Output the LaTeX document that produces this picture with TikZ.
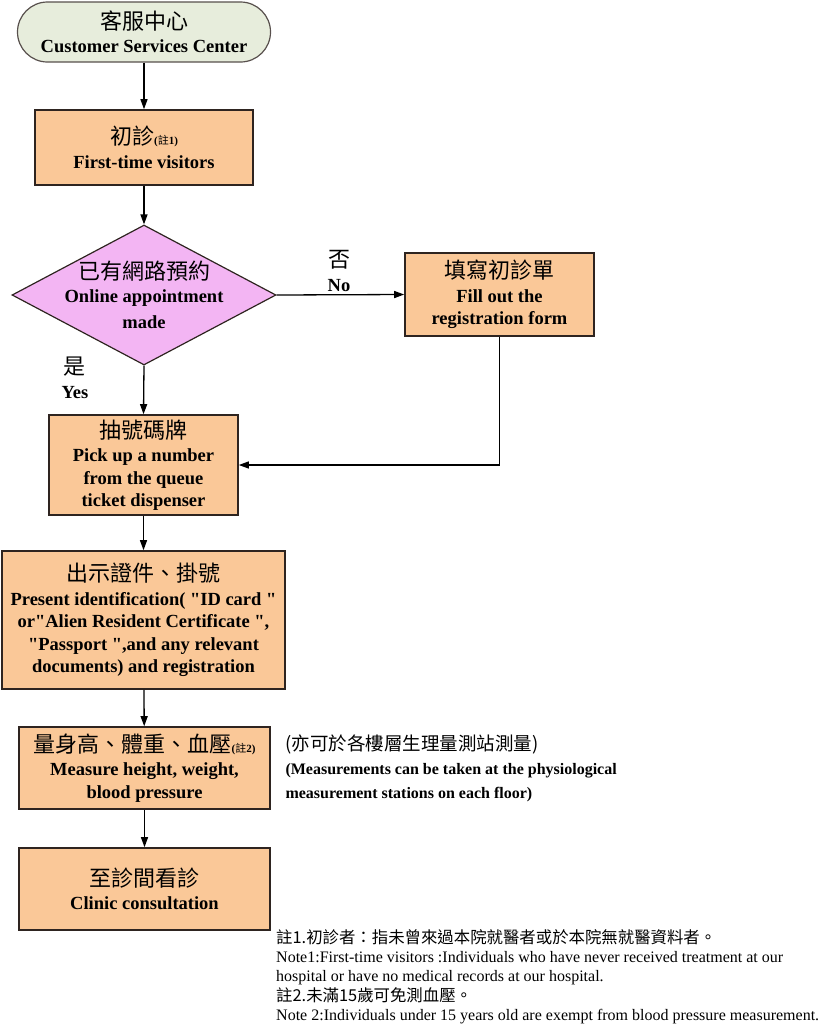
\documentclass[tikz,border=0pt]{standalone}
\usepackage{fontspec}
\setmainfont{Liberation Serif}[Ligatures=TeXOff]
\newfontfamily\cjk{Noto Sans CJK TC}
\usetikzlibrary{shapes.geometric,arrows.meta}
\definecolor{boxfill}{HTML}{FAC898}
\definecolor{termfill}{HTML}{E7EDDC}
\definecolor{decfill}{HTML}{F3B5F3}
\definecolor{boxline}{HTML}{2E2420}
% chinese line and small note mark
\newcommand{\zh}[1]{{\cjk\mdseries\fontsize{22}{22}\selectfont #1}}
\newcommand{\zhmark}[1]{{\fontsize{11}{11}\selectfont(\cjk\mdseries 註\rmfamily\bfseries #1)}}

\begin{document}
\begin{tikzpicture}[x=1pt,y=-1pt,>={Triangle[length=10pt,width=7pt]},
  font=\bfseries\fontsize{18.5}{22.5}\selectfont,
  box/.style={draw=boxline,line width=1.6pt,fill=boxfill,align=center,inner sep=0pt},
  terminal/.style={box,fill=termfill,draw=boxline!80,line width=1.2pt,rounded corners=30pt},
  decision/.style={draw=boxline,line width=1.2pt,fill=decfill,shape=diamond,inner sep=0pt,
    minimum width=264pt,minimum height=140pt},
  flow/.style={->,line width=1.3pt}]
  \useasboundingbox (0,0) rectangle (819,1026);
  % start
  \node[terminal,minimum width=253pt,minimum height=60pt] (service) at (144,32)
    {\zh{客服中心}\\[1pt]Customer Services Center};
  % first visit
  \node[box,minimum width=218pt,minimum height=75pt] (first) at (144,147.5)
    {\zh{初診}\zhmark{1}\\[1pt]First-time visitors};
  % decision
  \node[decision] (online) at (144,295) {};
  \node[align=center] (onlinetext) at (online) {\zh{已有網路預約}\\Online appointment\\[4pt]made};
  % registration form
  \node[box,minimum width=189pt,minimum height=83pt] (form) at (499.5,294.5)
    {\zh{填寫初診單}\\[1pt]Fill out the\\registration form};
  % queue ticket
  \node[box,minimum width=189pt,minimum height=100pt] (ticket) at (143.5,465)
    {\zh{抽號碼牌}\\[1pt]Pick up a number\\from the queue\\ticket dispenser};
  % identification
  \node[box,minimum width=283pt,minimum height=138pt] (present) at (143.5,620)
    {\zh{出示證件、掛號}\\[1pt]Present identification( "ID card "\\or"Alien Resident Certificate ",\\"Passport ",and any relevant\\documents) and registration};
  % measurement
  \node[box,minimum width=251pt,minimum height=82pt] (measure) at (144.5,768)
    {\zh{量身高、體重、血壓}\zhmark{2}\\[1pt]Measure height, weight,\\blood pressure};
  % consultation
  \node[box,minimum width=251pt,minimum height=82pt] (clinic) at (144.5,889)
    {\zh{至診間看診}\\[1pt]Clinic consultation};
  % connectors
  \draw[flow] (service) -- (first);
  \draw[flow] (first) -- (online);
  \draw[flow] (online.east) -- (form.west);
  \draw[flow] (online.south) -- (ticket.north);
  \draw[flow] (form.south) |- (ticket.east);
  \draw[flow] (ticket) -- (present);
  \draw[flow] (present) -- (measure);
  \draw[flow] (measure) -- (clinic);
  % branch labels
  \node[align=center] (nolabel) at (339,271) {\zh{否}\\[1pt]No};
  \node[align=center] (yeslabel) at (75,378) {\zh{是}\\[1pt]Yes};
  % side remark
  \node[anchor=north west,align=left,font=\bfseries\fontsize{16}{24}\selectfont] (remark) at (282,731)
    {{\cjk\mdseries\fontsize{18.5}{18.5}\selectfont(亦可於各樓層生理量測站測量)}\\(Measurements can be taken at the physiological\\measurement stations on each floor)};
  % notes
  \node[anchor=north west,align=left,inner sep=0pt,font=\fontsize{16}{19.3}\selectfont] (notes) at (276,929)
    {{\cjk\fontsize{16.4}{16.4}\selectfont 註1.初診者：指未曾來過本院就醫者或於本院無就醫資料者。}\\
     Note1:First-time visitors :Individuals who have never received treatment at our\\
     hospital or have no medical records at our hospital.\\
     {\cjk\fontsize{16.4}{16.4}\selectfont 註2.未滿15歲可免測血壓。}\\
     Note 2:Individuals under 15 years old are exempt from blood pressure measurement.};
\end{tikzpicture}
\end{document}
